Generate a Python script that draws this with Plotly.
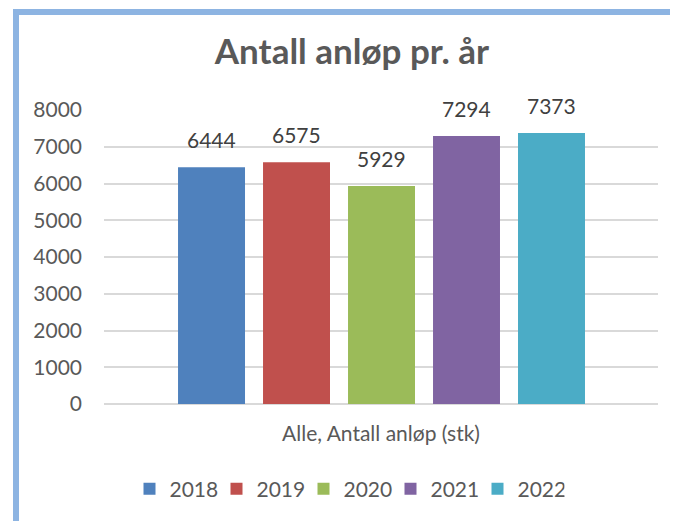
import plotly.graph_objects as go

title = "Antall anløp pr. år"
category_label = "Alle, Antall anløp (stk)"
years = ["2018", "2019", "2020", "2021", "2022"]
values = [6444, 6575, 5929, 7294, 7373]
colors = ["#4F81BD", "#C0504D", "#9BBB59", "#8064A2", "#4BACC6"]
y_ticks = [0, 1000, 2000, 3000, 4000, 5000, 6000, 7000, 8000]

# the page body adds an 8px offset; work in figure coords = screen - OFF
OFF = 8
W, H = 678 - OFF, 521 - OFF
L, T = 104 - OFF, 110 - OFF
R = W - (658 - OFF)
B = H - (404 - OFF)
FONT = "Lato"

fig = go.Figure()
for yr, v, c in zip(years, values, colors):
    fig.add_trace(go.Bar(
        x=[yr], y=[v], name=yr, marker=dict(color=c, line=dict(width=0)),
        hoverinfo="skip",
    ))

for i, v in enumerate(values):
    fig.add_annotation(
        x=i, y=v, text=str(v), showarrow=False, yanchor="bottom",
        yshift=13, font=dict(family=FONT, size=21, color="#404040"),
    )

pw = W - L - R
ph = H - T - B
def px_x(p):
    return (p - OFF - L) / pw
def px_y(p):
    return (H - B - (p - OFF)) / ph

fig.add_shape(type="rect", xref="paper", yref="paper",
              x0=px_x(16), x1=px_x(720), y0=px_y(12), y1=px_y(560),
              line=dict(color="#8DB4E2", width=6), fillcolor="rgba(0,0,0,0)",
              layer="above")

fig.update_layout(
    width=W, height=H,
    margin=dict(l=L, r=R, t=T, b=B, pad=0),
    paper_bgcolor="white", plot_bgcolor="white",
    barmode="relative", bargap=0.212,
    title=dict(text="<b>" + title + "</b>", x=(352 - OFF) / W, xanchor="center",
               y=1 - (52 - OFF) / H, yanchor="middle",
               font=dict(family=FONT, size=35, color="#595959")),
    font=dict(family=FONT, size=21, color="#595959"),
    showlegend=True,
    legend=dict(orientation="h", x=(347 - OFF) / W, xref="container", xanchor="center",
                y=1 - (489 - OFF) / H, yref="container", yanchor="middle",
                font=dict(family=FONT, size=21, color="#595959"),
                traceorder="normal", itemwidth=30, entrywidth=42,
                entrywidthmode="pixels"),
    xaxis=dict(type="category", categoryorder="array", categoryarray=years,
               range=[-1.265, 5.253], showticklabels=False, showgrid=False,
               showline=False, zeroline=False, ticks="",
               title=dict(text=category_label, standoff=22,
                          font=dict(family=FONT, size=21, color="#595959"))),
    yaxis=dict(range=[0, 8000], tickvals=y_ticks, showgrid=True,
               gridcolor="#D9D9D9", gridwidth=1.5, zeroline=True,
               zerolinecolor="#D9D9D9", zerolinewidth=1.5, showline=False,
               ticks="", ticklabelstandoff=21,
               tickfont=dict(family=FONT, size=21, color="#595959")),
)

fig.write_html("out.html")
